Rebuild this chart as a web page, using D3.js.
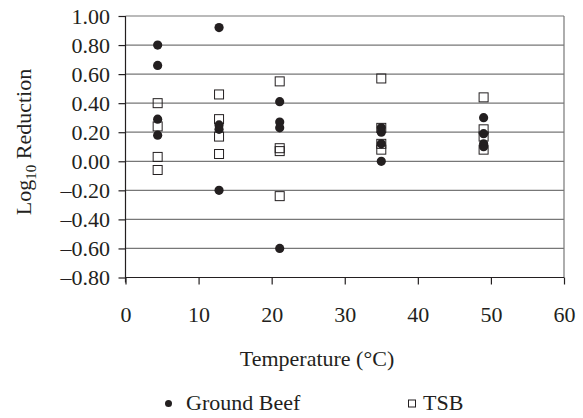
<!DOCTYPE html>
<html>
<head>
<meta charset="utf-8">
<script src="https://cdn.jsdelivr.net/npm/d3@7"></script>
<style>
    body { margin: 0; background: #fff; }
    text { font-family: "Liberation Serif", "Times New Roman", serif; fill: #231f20; }
</style>
</head>
<body>
<div id="plot"></div>
<script>
// data
var beefTemp = [4.4, 4.4, 4.4, 4.4, 12.8, 12.8, 12.8, 12.8, 21.1, 21.1, 21.1, 21.1, 35, 35, 35, 35, 49, 49, 49, 49];
var beefLog = [0.80, 0.66, 0.29, 0.18, 0.92, 0.25, 0.22, -0.20, 0.41, 0.27, 0.23, -0.60, 0.23, 0.20, 0.12, 0.00, 0.30, 0.19, 0.12, 0.10];
var tsbTemp = [4.4, 4.4, 4.4, 4.4, 12.8, 12.8, 12.8, 12.8, 21.1, 21.1, 21.1, 21.1, 35, 35, 35, 35, 49, 49, 49, 49];
var tsbLog = [0.40, 0.24, 0.03, -0.06, 0.46, 0.29, 0.17, 0.05, 0.55, 0.09, 0.07, -0.24, 0.57, 0.23, 0.12, 0.08, 0.44, 0.22, 0.17, 0.08];
var xTicks = [0, 10, 20, 30, 40, 50, 60];
var yTicks = [-0.8, -0.6, -0.4, -0.2, 0, 0.2, 0.4, 0.6, 0.8, 1.0];

var svgWidth = 583;
var svgHeight = 418;
var fontSize = 22;

var margin = { top: 16, right: 19, bottom: 140.5, left: 125.5 };
var width = svgWidth - margin.left - margin.right;
var height = svgHeight - margin.top - margin.bottom;

var svg = d3.select("#plot")
    .append("svg")
    .attr("width", svgWidth)
    .attr("height", svgHeight);

var chartGroup = svg.append("g")
    .attr("transform", `translate(${margin.left}, ${margin.top})`);

// scales
var xScale = d3.scaleLinear().domain([0, 60]).range([0, width]);
var yScale = d3.scaleLinear().domain([-0.8, 1.0]).range([height, 0]);

// gridlines
chartGroup.selectAll(".grid")
    .data(yTicks.filter(d => d > -0.8))
    .enter()
    .append("line")
    .attr("x1", 0)
    .attr("x2", width)
    .attr("y1", d => yScale(d))
    .attr("y2", d => yScale(d))
    .attr("stroke", "#777")
    .attr("stroke-width", 1.2);

// right border
chartGroup.append("line")
    .attr("x1", width).attr("x2", width)
    .attr("y1", 0).attr("y2", height)
    .attr("stroke", "#777")
    .attr("stroke-width", 1.2);

// axes
var fmt = d => (d < 0 ? "\u2013" : "") + Math.abs(d).toFixed(2);
var yAxis = d3.axisLeft(yScale).tickValues(yTicks).tickFormat(fmt).tickSize(7).tickPadding(8.5);
var xAxis = d3.axisBottom(xScale).tickValues(xTicks).tickSize(7).tickPadding(22);

var gx = chartGroup.append("g")
    .attr("transform", `translate(0, ${height})`)
    .call(xAxis);
var gy = chartGroup.append("g").call(yAxis);

[gx, gy].forEach(g => {
    g.attr("font-family", null).attr("font-size", null);
    g.select(".domain").attr("stroke", "#231f20").attr("stroke-width", 1.2);
    g.selectAll(".tick line").attr("stroke", "#231f20").attr("stroke-width", 1.2);
    g.selectAll("text").attr("font-size", fontSize).attr("fill", "#231f20");
});
gx.select(".domain").attr("d", `M0,0H${width}`);
gx.selectAll(".tick").filter(d => d === 0).select("line").attr("y1", 0);
gy.select(".domain").attr("d", `M0,0V${height + 5}`);

// beef points
chartGroup.selectAll(".beef")
    .data(beefLog)
    .enter()
    .append("circle")
    .attr("cx", (d, i) => xScale(beefTemp[i]))
    .attr("cy", d => yScale(d))
    .attr("r", 4.6)
    .attr("fill", "#231f20");

// TSB points
chartGroup.selectAll(".tsb")
    .data(tsbLog)
    .enter()
    .append("rect")
    .attr("x", (d, i) => xScale(tsbTemp[i]) - 4.5)
    .attr("y", d => yScale(d) - 4.5)
    .attr("width", 9)
    .attr("height", 9)
    .attr("fill", "none")
    .attr("stroke", "#231f20")
    .attr("stroke-width", 1);

// axis titles
svg.append("text")
    .attr("x", 317)
    .attr("y", 366)
    .attr("text-anchor", "middle")
    .attr("font-size", fontSize)
    .text("Temperature (\u00b0C)");

var yTitle = svg.append("text")
    .attr("transform", "translate(31, 142) rotate(-90)")
    .attr("text-anchor", "middle")
    .attr("font-size", fontSize);
yTitle.append("tspan").text("Log");
yTitle.append("tspan").attr("font-size", 15).attr("dy", 5).text("10");
yTitle.append("tspan").attr("dy", -5).text(" Reduction");

// legend
var legend = svg.append("g");
legend.append("circle").attr("cx", 168.5).attr("cy", 403.5).attr("r", 3.5).attr("fill", "#231f20");
legend.append("text").attr("x", 186).attr("y", 410).attr("font-size", fontSize).text("Ground Beef");
legend.append("rect").attr("x", 408.5).attr("y", 400).attr("width", 7).attr("height", 7)
    .attr("fill", "none").attr("stroke", "#231f20").attr("stroke-width", 1);
legend.append("text").attr("x", 423).attr("y", 410).attr("font-size", fontSize).text("TSB");
</script>
</body>
</html>
